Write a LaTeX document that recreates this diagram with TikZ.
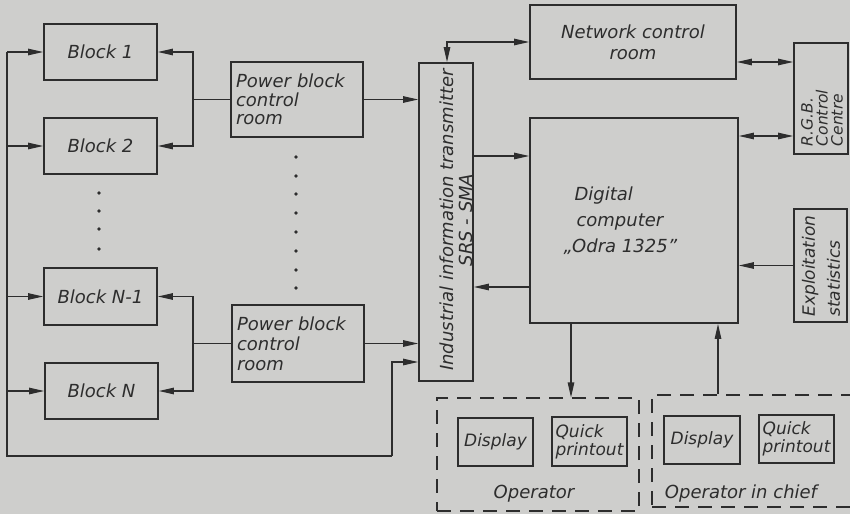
\documentclass[tikz,border=0pt]{standalone}
\usepackage{fontspec}
\setmainfont{DejaVu Sans}
\usetikzlibrary{arrows.meta}
\definecolor{paper}{RGB}{206,206,204}
\definecolor{ink}{RGB}{45,45,45}
\tikzset{
  txt/.style={text=ink, font=\fontsize{18}{20}\selectfont\itshape},
  box/.style={draw=ink, line width=1.8pt, rectangle, inner sep=2pt, txt},
  conn/.style={draw=ink, line width=1.1pt},
  tip/.tip={Triangle[length=15pt,width=6.5pt]},
  arr/.style={conn, -tip},
  darr/.style={conn, tip-tip},
  grp/.style={draw=ink, line width=1.1pt, dash pattern=on 14pt off 9pt, rectangle, inner sep=0pt},
  dotmark/.style={fill=ink},
}
\begin{document}
\begin{tikzpicture}[x=1pt,y=-1pt]
\useasboundingbox (0,0) rectangle (850,514);
\fill[paper] (0,0) rectangle (850,514);

% blocks
\node[box, minimum width=113pt, minimum height=56pt] (b1) at (100.5,52) {Block 1};
\node[box, minimum width=113pt, minimum height=56pt] (b2) at (100.5,146) {Block 2};
\node[box, minimum width=113pt, minimum height=57pt] (bn1) at (100.5,296.5) {Block N-1};
\node[box, minimum width=113pt, minimum height=56pt] (bn) at (101.5,391) {Block N};
\foreach \yy in {193,211,229,249} \fill[dotmark] (99,\yy) circle (1.8pt);

% power block control rooms
\node[box, minimum width=132pt, minimum height=75pt, text width=122pt, align=left,
      font=\fontsize{18}{18.5}\selectfont\itshape] (pb1) at (297,99.5) {Power block\\control\\room};
\node[box, minimum width=132pt, minimum height=77pt, text width=122pt, align=left,
      font=\fontsize{18}{20}\selectfont\itshape] (pb2) at (298,343.5) {Power block\\control\\room};
\foreach \yy in {157,176,194,213,232,251,270,288} \fill[dotmark] (296,\yy) circle (1.8pt);

% transmitter
\node[box, minimum width=54pt, minimum height=318pt] (tr) at (446,222) {};
\node[txt, rotate=90, align=center, font=\fontsize{18}{19}\selectfont\itshape] (trt) at (456,220)
  {Industrial information transmitter\\SRS - SMA};

% network control room
\node[box, minimum width=206pt, minimum height=74pt, align=center,
      font=\fontsize{18}{21}\selectfont\itshape] (ncr) at (633,42) {Network control\\room};

% digital computer
\node[box, minimum width=208pt, minimum height=205pt] (dc) at (634,220.5) {};
\node[txt, anchor=west, align=left, font=\fontsize{18}{26}\selectfont\itshape] (dct) at (560,221)
  {\hspace*{11pt}Digital\\\hspace*{13pt}computer\\„Odra 1325”};

% RGB control centre
\node[box, minimum width=54pt, minimum height=111pt] (rgb) at (821,98.5) {};
\node[txt, rotate=90, align=left, font=\fontsize{15.5}{15}\selectfont\itshape] (rgbt) at (822,118)
  {R.G.B.\\Control\\Centre};

% exploitation statistics
\node[box, minimum width=53pt, minimum height=113pt] (ex) at (820.5,265.5) {};
\node[txt, rotate=90, align=left, font=\fontsize{17}{25}\selectfont\itshape] (ext) at (821,266)
  {Exploitation\\statistics};

% operator groups
\node[grp, minimum width=202pt, minimum height=113pt] (op) at (538,454.5) {};
\node[grp, minimum width=218pt, minimum height=112pt] (opc) at (761,451) {};
\node[box, minimum width=75pt, minimum height=48pt, font=\fontsize{17}{18}\selectfont\itshape] (d1) at (495.5,442) {Display};
\node[box, minimum width=75pt, minimum height=49pt, align=left, inner sep=1pt,
      font=\fontsize{17}{18}\selectfont\itshape] (q1) at (589.5,441.5) {Quick\\printout};
\node[box, minimum width=76pt, minimum height=48pt, font=\fontsize{17}{18}\selectfont\itshape] (d2) at (702,440) {Display};
\node[box, minimum width=75pt, minimum height=48pt, align=left, inner sep=1pt,
      font=\fontsize{17}{18}\selectfont\itshape] (q2) at (796.5,439) {Quick\\printout};
\node[txt] (opl) at (534,494) {Operator};
\node[txt] (opcl) at (741,494) {Operator in chief};

% helper coordinates
\coordinate (busL) at (7,52);
\coordinate (busLb) at (7,456);
\coordinate (turn) at (392,456);
\coordinate (y362) at (0,362);
\coordinate (rb1) at (193,99.5);
\coordinate (rb2) at (193,343.5);
\coordinate (tk) at (447,42);
\coordinate (y156) at (0,156);
\coordinate (y287) at (0,287);
\coordinate (y62) at (0,62);
\coordinate (y136) at (0,136);
\coordinate (x571) at (571,0);
\coordinate (x718) at (718,0);

% left bus
\draw[conn] (busL) -- (busLb) -- (turn);
\draw[arr] (turn) |- (tr.west |- y362);
\draw[arr] (busL) -- (b1.west);
\draw[arr] (b2.west -| busL) -- (b2.west);
\draw[arr] (bn1.west -| busL) -- (bn1.west);
\draw[arr] (bn.west -| busL) -- (bn.west);

% right buses
\draw[conn] (pb1.west) -- (rb1);
\draw[arr] (rb1) |- (b1.east);
\draw[arr] (rb1) |- (b2.east);
\draw[conn] (pb2.west) -- (rb2);
\draw[arr] (rb2) |- (bn1.east);
\draw[arr] (rb2) |- (bn.east);

% to transmitter
\draw[arr] (pb1.east) -- (pb1.east -| tr.west);
\draw[arr] (pb2.east) -- (pb2.east -| tr.west);

% transmitter connections
\draw[darr] (tr.north -| tk) |- (ncr.west);
\draw[arr] (tr.east |- y156) -- (dc.west |- y156);
\draw[arr] (dc.west |- y287) -- (tr.east |- y287);

% RGB and statistics
\draw[darr] (ncr.east |- y62) -- (rgb.west |- y62);
\draw[darr] (dc.east |- y136) -- (rgb.west |- y136);
\draw[arr] (ex.west) -- (ex.west -| dc.east);

% operators
\draw[arr] (dc.south -| x571) -- (op.north -| x571);
\draw[arr] (opc.north -| x718) -- (dc.south -| x718);
\end{tikzpicture}
\end{document}
